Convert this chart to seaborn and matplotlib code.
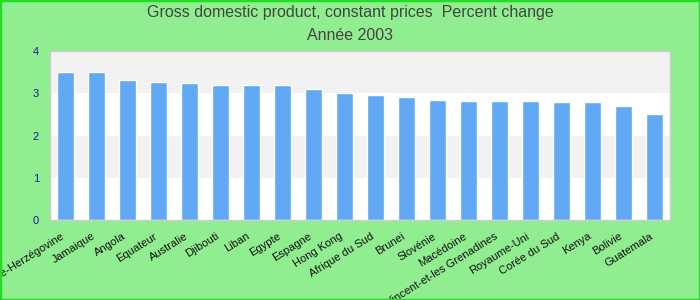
import matplotlib
matplotlib.use("Agg")
import matplotlib.pyplot as plt
import matplotlib.transforms as mtransforms
import seaborn as sns
import pandas as pd
from matplotlib.patches import Rectangle

countries = ["Bosnie-Herzégovine", "Jamaique", "Angola", "Equateur", "Australie",
             "Djibouti", "Liban", "Egypte", "Espagne", "Hong Kong", "Afrique du Sud",
             "Brunei", "Slovénie", "Macédoine", "Saint-Vincent-et-les Grenadines",
             "Royaume-Uni", "Corée du Sud", "Kenya", "Bolivie", "Guatemala"]
values = [3.50, 3.50, 3.31, 3.26, 3.24, 3.19, 3.19, 3.19, 3.10, 3.00, 2.95,
          2.90, 2.83, 2.81, 2.81, 2.81, 2.79, 2.79, 2.71, 2.52]
yticks = [0, 1, 2, 3, 4]

df = pd.DataFrame({"country": countries, "value": values})

sns.set_theme(style="white")
plt.rcParams['font.family'] = ['Liberation Sans', 'DejaVu Sans']

fig = plt.figure(figsize=(7, 3), dpi=100, facecolor="#90EE90")
fig.patches.append(Rectangle((0, 0), 1, 1, transform=fig.transFigure, fill=False,
                             edgecolor="#22DD22", linewidth=2.5))
ax = fig.add_axes([50/700, 80/300, 620/700, 169/300])
ax.set_facecolor("white")

for i in range(4):
    if i % 2 == 1:
        ax.axhspan(i, i + 1, color="#F2F2F2", zorder=0, lw=0)

sns.barplot(data=df, x="country", y="value", color="#61A8F5", saturation=1,
            width=0.55, ax=ax, zorder=2)

ax.set_ylim(0, 4)
ax.set_xlim(-0.5, len(countries) - 0.5)
ax.set_yticks(yticks)
ax.set_yticklabels([str(t) for t in yticks], color="#1A1A9A", fontsize=8)
ax.tick_params(axis="y", length=0, pad=8)
ax.tick_params(axis="x", length=0, pad=8)
ax.set_xticks(range(len(countries)))
ax.set_xticklabels(countries, rotation=32, ha="right", rotation_mode="anchor",
                   fontsize=8, color="#111111")
offset = mtransforms.ScaledTranslation(-5/100, 0, fig.dpi_scale_trans)
for lbl in ax.get_xticklabels():
    lbl.set_transform(lbl.get_transform() + offset)
ax.set_xlabel("")
ax.set_ylabel("")
for s in ax.spines.values():
    s.set_color("#CCCCCC")
    s.set_linewidth(1)

fig.text(0.5, 1 - 13/300, "Gross domestic product, constant prices  Percent change",
         ha="center", va="center", fontsize=11.5, color="#444444")
fig.text(0.5, 1 - 35/300, "Année 2003", ha="center", va="center",
         fontsize=11.5, color="#444444")

fig.savefig("out.png", dpi=100, facecolor=fig.get_facecolor())
